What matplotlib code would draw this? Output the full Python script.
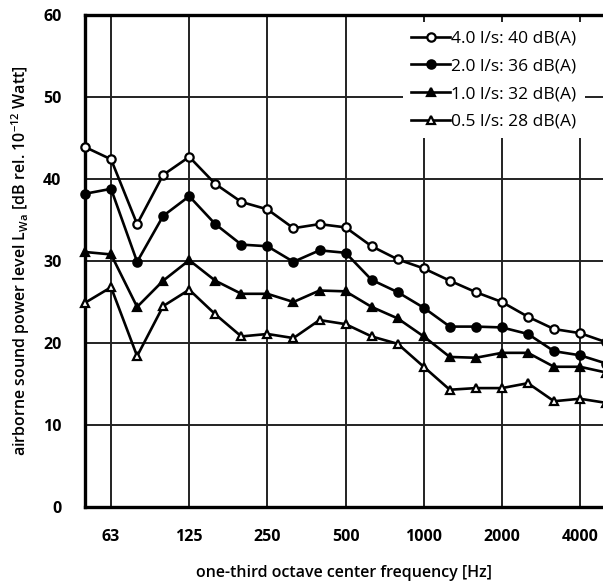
import matplotlib.pyplot as plt
import numpy as np

plt.rcParams['font.family'] = ['Open Sans', 'DejaVu Sans']

# one-third octave bands 50 Hz ... 5000 Hz
bands = [50, 63, 80, 100, 125, 160, 200, 250, 315, 400, 500, 630, 800,
         1000, 1250, 1600, 2000, 2500, 3150, 4000, 5000]
tick_labels = ['63', '125', '250', '500', '1000', '2000', '4000']

lw_40 = [43.9, 42.4, 34.5, 40.5, 42.7, 39.4, 37.2, 36.3, 34.0, 34.5, 34.1,
         31.8, 30.2, 29.1, 27.6, 26.2, 25.0, 23.2, 21.7, 21.2, 20.1]
lw_20 = [38.2, 38.8, 29.9, 35.5, 37.9, 34.5, 32.0, 31.8, 29.9, 31.3, 31.0,
         27.7, 26.2, 24.3, 22.0, 22.0, 21.9, 21.1, 19.0, 18.5, 17.5]
lw_10 = [31.1, 30.8, 24.4, 27.6, 30.1, 27.6, 26.0, 26.0, 25.0, 26.4, 26.3,
         24.4, 23.0, 20.8, 18.3, 18.2, 18.8, 18.8, 17.1, 17.1, 16.4]
lw_05 = [24.9, 26.8, 18.4, 24.5, 26.5, 23.5, 20.8, 21.1, 20.6, 22.8, 22.3,
         20.8, 19.9, 17.1, 14.3, 14.5, 14.5, 15.1, 12.9, 13.2, 12.7]

series = [
    ('4.0 l/s: 40 dB(A)', lw_40, 'o', 'white'),
    ('2.0 l/s: 36 dB(A)', lw_20, 'o', 'black'),
    ('1.0 l/s: 32 dB(A)', lw_10, '^', 'black'),
    ('0.5 l/s: 28 dB(A)', lw_05, '^', 'white'),
]

fig = plt.figure(figsize=(6.03, 5.86), dpi=100)
ax = fig.add_axes([85 / 603, 79 / 586, 518 / 603, 492 / 586])

x = np.arange(len(bands))
for label, vals, m, fc in series:
    ax.plot(x, vals, color='black', lw=1.9, marker=m, markersize=6,
            markerfacecolor=fc, markeredgecolor='black', markeredgewidth=1.6,
            label=label, zorder=3, clip_on=False)

ax.set_xlim(0, 19.88)
ax.set_ylim(0, 60)
ticks = [bands.index(int(t)) for t in tick_labels]
ax.set_xticks(ticks)
ax.set_xticklabels(tick_labels)
ax.set_yticks(np.arange(0, 61, 10))
ax.tick_params(length=0, labelsize=11.5)
ax.tick_params(axis='x', pad=16)
ax.tick_params(axis='y', pad=17)
for t in ax.get_xticklabels() + ax.get_yticklabels():
    t.set_fontweight('bold')

ax.grid(True, color='#222222', lw=1.4)
ax.set_axisbelow(True)
for side in ['left', 'bottom', 'top']:
    ax.spines[side].set_linewidth(2.4)
ax.spines['right'].set_visible(False)

ax.set_xlabel('one-third octave center frequency [Hz]', fontsize=11.5,
              fontweight='semibold', labelpad=14)
ax.set_ylabel(r'airborne sound power level L$_{\mathregular{Wa}}$ [dB rel. 10$^{\mathregular{-12}}$ Watt]',
              fontsize=11.5, fontweight='semibold', labelpad=8)

leg = ax.legend(loc='upper right', bbox_to_anchor=(0.979, 1.0), fontsize=12.5,
                frameon=True, fancybox=False, handlelength=2.2,
                handletextpad=0.1, labelspacing=0.66,
                borderaxespad=0.4, borderpad=0.5)
leg.get_frame().set_edgecolor('none')
leg.get_frame().set_facecolor('white')
leg.get_frame().set_alpha(1)

fig.savefig('out.png', dpi=100)
